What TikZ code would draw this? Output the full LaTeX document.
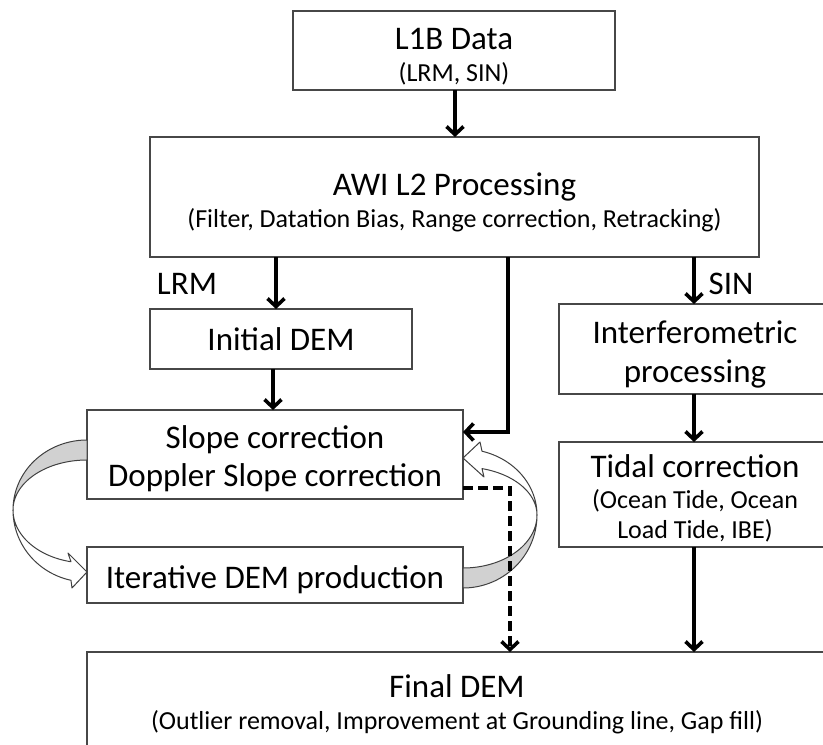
\documentclass[tikz,border=0pt]{standalone}
\usepackage{fontspec}
\setmainfont{Carlito}
\usetikzlibrary{arrows.meta}
\begin{document}
\begin{tikzpicture}[x=1pt,y=-1pt,
  box/.style={draw=black!72, line width=1.6pt, inner sep=0pt, outer sep=0pt},
  big/.style={anchor=base, inner sep=0pt, font=\fontsize{33}{40}\selectfont},
  small/.style={anchor=base, inner sep=0pt, font=\fontsize{26}{31}\selectfont},
  arr/.style={line width=3.6pt, -{Straight Barb[length=8pt,width=17pt]}},
  dasharr/.style={line width=3.6pt, dash pattern=on 10pt off 5pt, -{Straight Barb[length=8pt,width=17pt]}},
  ribgray/.style={fill=black!18, draw=black!75, line width=1pt},
  ribwhite/.style={fill=white, draw=black!75, line width=1pt, line join=round}]
\useasboundingbox (0,0) rectangle (823,745);
\clip (0,0) rectangle (823,745);

% boxes
\node[box, minimum width=322pt, minimum height=79pt] (l1b) at (454,50.5) {};
\node[box, minimum width=609pt, minimum height=120pt] (awi) at (454.5,197) {};
\node[box, minimum width=262pt, minimum height=60pt] (init) at (281,339) {};
\node[box, minimum width=376pt, minimum height=89pt] (slope) at (275,454.5) {};
\node[box, minimum width=376pt, minimum height=56pt] (iter) at (275,575) {};
\node[box, minimum width=272pt, minimum height=90pt] (interf) at (695,349) {};
\node[box, minimum width=272pt, minimum height=105pt] (tidal) at (695,494.5) {};
\node[box, minimum width=744pt, minimum height=108pt] (final) at (459,706) {};

% texts
\node[big] (l1bT) at (454,49) {L1B Data};
\node[small] (l1bS) at (454,81) {(LRM, SIN)};
\node[big] (awiT) at (454.5,195) {AWI L2 Processing};
\node[small] (awiS) at (454.5,227) {(Filter, Datation Bias, Range correction, Retracking)};
\node[big] (lrm) at (187,294) {LRM};
\node[big] (sin) at (731,294) {SIN};
\node[big] (initT) at (281,350) {Initial DEM};
\node[big] (slopeT) at (275,448) {Slope correction};
\node[big] (slopeS) at (275,486) {Doppler Slope correction};
\node[big] (iterT) at (275,588) {Iterative DEM production};
\node[big] (interfT) at (695,343) {Interferometric};
\node[big] (interfS) at (695,382) {processing};
\node[big] (tidalT) at (695,477) {Tidal correction};
\node[small] (tidalS) at (695,508) {(Ocean Tide, Ocean};
\node[small] (tidalU) at (695,538) {Load Tide, IBE)};
\node[big] (finalT) at (457,697) {Final DEM};
\node[small] (finalS) at (457,729) {(Outlier removal, Improvement at Grounding line, Gap fill)};

% connectors
\draw[arr] (455,0 |- l1b.south) -- (455,0 |- awi.north);
\draw[arr] (276,0 |- awi.south) -- (276,0 |- init.north);
\draw[arr] (273,0 |- init.south) -- (273,0 |- slope.north);
\draw[arr] (508,0 |- awi.south) -- (508,432) -- (slope.east |- 0,432);
\draw[arr] (694,0 |- awi.south) -- (694,0 |- interf.north);
\draw[arr] (694,0 |- interf.south) -- (694,0 |- tidal.north);
\draw[arr] (694,0 |- tidal.south) -- (694,0 |- final.north);

% curved ribbon arrows (left: slope -> iterative)
\filldraw[ribgray] plot[domain=270:180, samples=40] ({87+74*cos(\x)},{510+70*sin(\x)})
  -- plot[domain=180:270, samples=40] ({87+74*cos(\x)},{510+50*sin(\x)}) -- cycle;
\filldraw[ribwhite] plot[domain=180:102.5, samples=40] ({87+74*cos(\x)},{510+72*sin(\x)})
  -- (72,588) -- (iter.west |- 0,572) -- (68,553)
  -- plot[domain=102.5:180, samples=40] ({87+74*cos(\x)},{510+53*sin(\x)}) -- cycle;

% right: iterative -> slope
\filldraw[ribgray] plot[domain=90:0, samples=40] ({463+74*cos(\x)},{515+73*sin(\x)})
  -- plot[domain=0:90, samples=40] ({463+74*cos(\x)},{515+53*sin(\x)}) -- cycle;
\filldraw[ribwhite] plot[domain=0:-75.1, samples=40] ({463+74*cos(\x)},{515+66*sin(\x)})
  -- (480,442) -- (slope.east |- 0,458) -- (484,477)
  -- plot[domain=-75.1:0, samples=40] ({463+74*cos(\x)},{515+48*sin(\x)}) -- cycle;

% dashed connector
\draw[dasharr] (slope.east |- 0,488) -- (510,488) -- (510,0 |- final.north);
\end{tikzpicture}
\end{document}
